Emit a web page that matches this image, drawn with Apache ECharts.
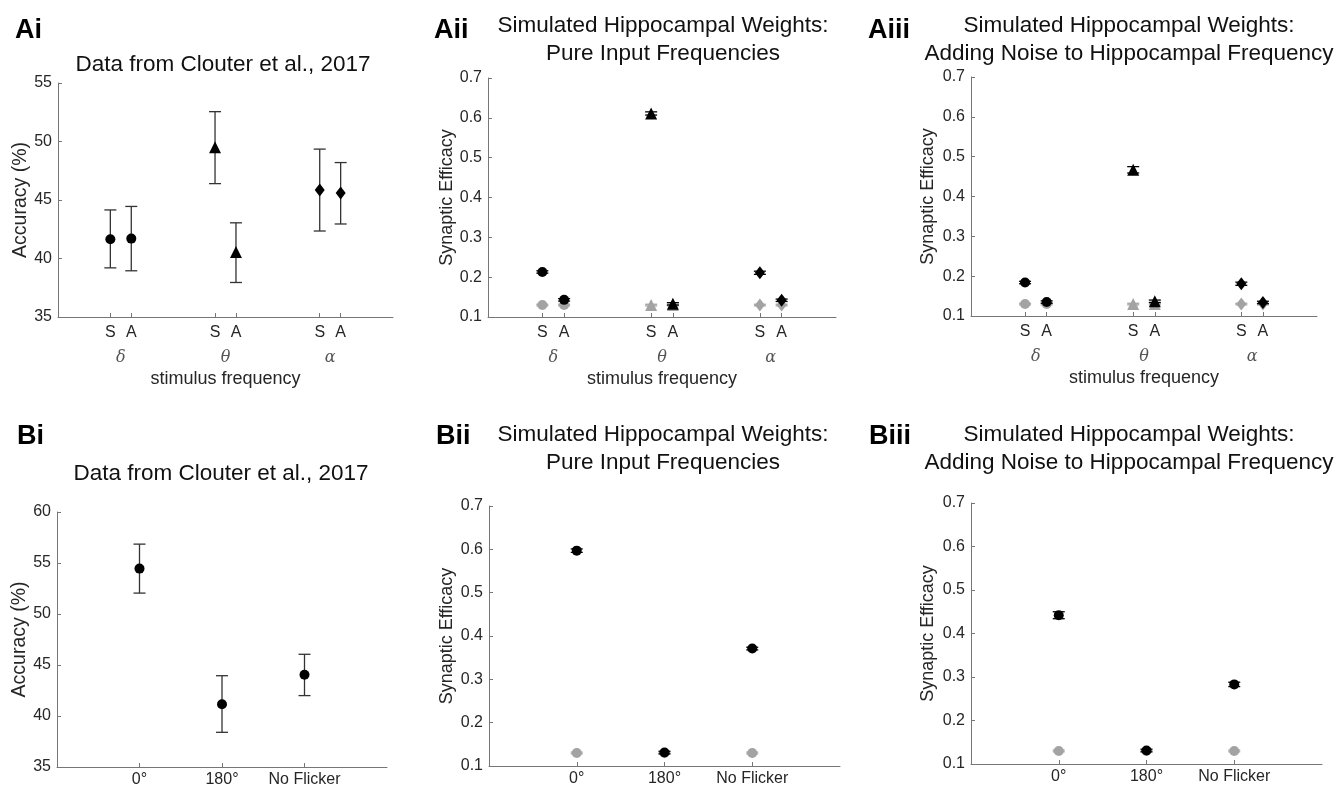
<!DOCTYPE html>
<html>
<head>
<meta charset="utf-8">
<title>Clouter et al. 2017 vs simulated hippocampal weights</title>
<script src="https://cdn.jsdelivr.net/npm/echarts@6/dist/echarts.min.js"></script>
<style>
  html, body { margin: 0; padding: 0; background: #fff; }
  #chart { width: 1337px; height: 789px; }
</style>
</head>
<body>
<div id="chart"></div>
<script>
// ---- A row: stimulus frequency panels ----
const freqTickPos = [2.5, 3.5, 7.5, 8.5, 12.5, 13.5];
const freqTickLabels = ['S', 'A', 'S', 'A', 'S', 'A'];
const bandPos = [3, 8, 13];
const bandLabels = ['δ', 'θ', 'α'];
const freqMarkers = ['circle', 'circle', 'triangle', 'triangle', 'diamond', 'diamond'];

// Ai: accuracy (%) from Clouter et al.
const aiMean  = [41.65, 41.7, 49.5, 40.55, 45.85, 45.6];
const aiLower = [39.2, 38.95, 46.4, 37.95, 42.35, 42.95];
const aiUpper = [44.15, 44.45, 52.55, 43.05, 49.35, 48.2];

// Aii: pure input frequencies
const aiiBlack    = [0.213, 0.143, 0.611, 0.133, 0.211, 0.142];
const aiiBlackErr = [0.003, 0.003, 0.004, 0.003, 0.004, 0.003];
const aiiGray     = [0.13, 0.13, 0.13, 0.13, 0.13, 0.13];

// Aiii: noise added to hippocampal frequency
const aiiiBlack    = [0.184, 0.135, 0.467, 0.137, 0.181, 0.134];
const aiiiBlackErr = [0.003, 0.003, 0.008, 0.003, 0.004, 0.003];
const aiiiGray     = [0.13, 0.13, 0.13, 0.13, 0.13, 0.13];

// ---- B row: phase panels ----
const phasePos = [1, 2, 3];
const phaseLabels = ['0°', '180°', 'No Flicker'];

const biMean  = [54.45, 41.15, 44.05];
const biLower = [52.05, 38.4, 42.0];
const biUpper = [56.85, 43.95, 46.05];

const biiBlack    = [0.597, 0.131, 0.371];
const biiBlackErr = [0.004, 0.003, 0.003];
const biiGray     = [0.13, 0.13, 0.13];

const biiiBlack    = [0.442, 0.131, 0.283];
const biiiBlackErr = [0.008, 0.003, 0.005];
const biiiGray     = [0.13, 0.13, 0.13];

const FONT = '"Liberation Sans", Arial, sans-serif';
const AXIS_GRAY = '#767676';
const TEXT = '#262626';
const MARK_GRAY = '#a3a3a3';

const grids = [
  {left: 58,  top: 83,  width: 335, height: 234},  // Ai
  {left: 488, top: 78,  width: 348, height: 239},  // Aii
  {left: 971, top: 77,  width: 346, height: 239},  // Aiii
  {left: 57,  top: 512, width: 330, height: 255},  // Bi
  {left: 489, top: 506, width: 351, height: 260},  // Bii
  {left: 971, top: 503, width: 351, height: 261}   // Biii
];

function xAxisFor(gridIndex, max, ticks, labels, margin) {
  return {
    type: 'value', gridIndex: gridIndex, min: 0, max: max,
    axisLine: {show: true, lineStyle: {color: AXIS_GRAY, width: 1}},
    axisTick: {show: true, inside: true, length: 4, customValues: ticks, lineStyle: {color: AXIS_GRAY}},
    axisLabel: {
      show: true, customValues: ticks, margin: margin,
      color: TEXT, fontSize: 16, fontFamily: FONT,
      formatter: v => labels[ticks.indexOf(v)]
    },
    splitLine: {show: false}
  };
}

function bandAxis(gridIndex) {
  return {
    type: 'value', gridIndex: gridIndex, min: 0, max: 16, position: 'bottom',
    axisLine: {show: false}, axisTick: {show: false}, splitLine: {show: false},
    axisLabel: {
      customValues: bandPos, margin: 33, color: '#555', fontSize: 16,
      fontStyle: 'italic', fontFamily: '"DejaVu Serif", "Liberation Serif", serif',
      formatter: v => bandLabels[bandPos.indexOf(v)]
    },
    name: 'stimulus frequency', nameLocation: 'middle', nameGap: 53,
    nameTextStyle: {color: TEXT, fontSize: 18, fontFamily: FONT}
  };
}

function yAxisFor(gridIndex, min, max, step, name, gap, digits, nameSize) {
  return {
    type: 'value', gridIndex: gridIndex, min: min, max: max, interval: step,
    axisLine: {show: true, lineStyle: {color: AXIS_GRAY, width: 1}},
    axisTick: {show: true, inside: true, length: 4, lineStyle: {color: AXIS_GRAY}},
    axisLabel: {margin: 6, color: TEXT, fontSize: 16, fontFamily: FONT,
      formatter: v => v.toFixed(digits)},
    splitLine: {show: false},
    name: name, nameLocation: 'middle', nameGap: gap,
    nameTextStyle: {color: TEXT, fontSize: nameSize, fontFamily: FONT}
  };
}

function renderErrorBar(params, api) {
  const x = api.value(0);
  const lo = api.coord([x, api.value(1)]);
  const hi = api.coord([x, api.value(2)]);
  const half = 6;
  const style = {stroke: api.visual('color'), lineWidth: 1.3};
  return {
    type: 'group',
    children: [
      {type: 'line', shape: {x1: lo[0], y1: lo[1], x2: hi[0], y2: hi[1]}, style: style},
      {type: 'line', shape: {x1: lo[0] - half, y1: lo[1], x2: lo[0] + half, y2: lo[1]}, style: style},
      {type: 'line', shape: {x1: hi[0] - half, y1: hi[1], x2: hi[0] + half, y2: hi[1]}, style: style}
    ]
  };
}

function errorSeries(axisIndex, xs, lower, upper, color, z) {
  return {
    type: 'custom', xAxisIndex: axisIndex, yAxisIndex: axisIndex,
    renderItem: renderErrorBar, itemStyle: {color: color}, z: z,
    encode: {x: 0, y: [1, 2]}, silent: true,
    data: xs.map((x, i) => [x, lower[i], upper[i]])
  };
}

function symErr(values, errs) {
  return [values.map((v, i) => v - errs[i]), values.map((v, i) => v + errs[i])];
}

function markerSeries(axisIndex, xs, ys, shapes, color, z) {
  return {
    type: 'scatter', xAxisIndex: axisIndex, yAxisIndex: axisIndex, z: z, silent: true,
    symbol: (val, p) => shapes[p.dataIndex],
    symbolSize: (val, p) => shapes[p.dataIndex] === 'circle' ? 10 : (shapes[p.dataIndex] === 'diamond' ? [10, 13] : 12),
    itemStyle: {color: color, opacity: 1},
    data: xs.map((x, i) => [x, ys[i]])
  };
}

const circles3 = ['circle', 'circle', 'circle'];
const grayErr6 = [0.002, 0.002, 0.002, 0.002, 0.002, 0.002];
const grayErr3 = [0.002, 0.002, 0.002];

const series = [];
// Ai
series.push(errorSeries(0, freqTickPos, aiLower, aiUpper, '#333', 2));
series.push(markerSeries(0, freqTickPos, aiMean, freqMarkers, '#000', 3));
// Aii
let g = symErr(aiiGray, grayErr6);
series.push(errorSeries(1, freqTickPos, g[0], g[1], MARK_GRAY, 2));
series.push(markerSeries(1, freqTickPos, aiiGray, freqMarkers, MARK_GRAY, 2));
g = symErr(aiiBlack, aiiBlackErr);
series.push(markerSeries(1, freqTickPos, aiiBlack, freqMarkers, '#000', 3));
series.push(errorSeries(1, freqTickPos, g[0], g[1], '#000', 4));
// Aiii
g = symErr(aiiiGray, grayErr6);
series.push(errorSeries(2, freqTickPos, g[0], g[1], MARK_GRAY, 2));
series.push(markerSeries(2, freqTickPos, aiiiGray, freqMarkers, MARK_GRAY, 2));
g = symErr(aiiiBlack, aiiiBlackErr);
series.push(markerSeries(2, freqTickPos, aiiiBlack, freqMarkers, '#000', 3));
series.push(errorSeries(2, freqTickPos, g[0], g[1], '#000', 4));
// Bi
series.push(errorSeries(3, phasePos, biLower, biUpper, '#333', 2));
series.push(markerSeries(3, phasePos, biMean, circles3, '#000', 3));
// Bii
g = symErr(biiGray, grayErr3);
series.push(errorSeries(4, phasePos, g[0], g[1], MARK_GRAY, 2));
series.push(markerSeries(4, phasePos, biiGray, circles3, MARK_GRAY, 2));
g = symErr(biiBlack, biiBlackErr);
series.push(markerSeries(4, phasePos, biiBlack, circles3, '#000', 3));
series.push(errorSeries(4, phasePos, g[0], g[1], '#000', 4));
// Biii
g = symErr(biiiGray, grayErr3);
series.push(errorSeries(5, phasePos, g[0], g[1], MARK_GRAY, 2));
series.push(markerSeries(5, phasePos, biiiGray, circles3, MARK_GRAY, 2));
g = symErr(biiiBlack, biiiBlackErr);
series.push(markerSeries(5, phasePos, biiiBlack, circles3, '#000', 3));
series.push(errorSeries(5, phasePos, g[0], g[1], '#000', 4));

function panelTitle(text, x, y) {
  return {text: text, left: x, top: y, textAlign: 'center',
    textStyle: {fontFamily: FONT, fontSize: 22.5, fontWeight: 'normal', color: '#111', lineHeight: 28}};
}
function panelLetter(text, x, y) {
  return {text: text, left: x, top: y,
    textStyle: {fontFamily: FONT, fontSize: 27, fontWeight: 'bold', color: '#000'}};
}

const option = {
  backgroundColor: '#fff',
  animation: false,
  title: [
    panelLetter('Ai', 10, 12),
    panelLetter('Aii', 429, 12),
    panelLetter('Aiii', 863, 12),
    panelLetter('Bi', 12, 418),
    panelLetter('Bii', 431, 418),
    panelLetter('Biii', 864, 418),
    panelTitle('Data from Clouter et al., 2017', 218, 46),
    panelTitle('Simulated Hippocampal Weights:\nPure Input Frequencies', 658, 7),
    panelTitle('Simulated Hippocampal Weights:\nAdding Noise to Hippocampal Frequency', 1124, 7),
    panelTitle('Data from Clouter et al., 2017', 216, 455),
    panelTitle('Simulated Hippocampal Weights:\nPure Input Frequencies', 658, 416),
    panelTitle('Simulated Hippocampal Weights:\nAdding Noise to Hippocampal Frequency', 1124, 416)
  ],
  grid: grids.map(r => Object.assign({containLabel: false}, r)),
  xAxis: [
    xAxisFor(0, 16, freqTickPos, freqTickLabels, 8),
    xAxisFor(1, 16, freqTickPos, freqTickLabels, 8),
    xAxisFor(2, 16, freqTickPos, freqTickLabels, 8),
    xAxisFor(3, 4, phasePos, phaseLabels, 5),
    xAxisFor(4, 4, phasePos, phaseLabels, 5),
    xAxisFor(5, 4, phasePos, phaseLabels, 5),
    bandAxis(0), bandAxis(1), bandAxis(2)
  ],
  yAxis: [
    yAxisFor(0, 35, 55, 5, 'Accuracy (%)', 25, 0, 19.5),
    yAxisFor(1, 0.1, 0.7, 0.1, 'Synaptic Efficacy', 32, 1, 18),
    yAxisFor(2, 0.1, 0.7, 0.1, 'Synaptic Efficacy', 34, 1, 18),
    yAxisFor(3, 35, 60, 5, 'Accuracy (%)', 25, 0, 19.5),
    yAxisFor(4, 0.1, 0.7, 0.1, 'Synaptic Efficacy', 33, 1, 18),
    yAxisFor(5, 0.1, 0.7, 0.1, 'Synaptic Efficacy', 34, 1, 18)
  ],
  series: series
};

const chart = echarts.init(document.getElementById('chart'));
chart.setOption(option);
</script>
</body>
</html>
